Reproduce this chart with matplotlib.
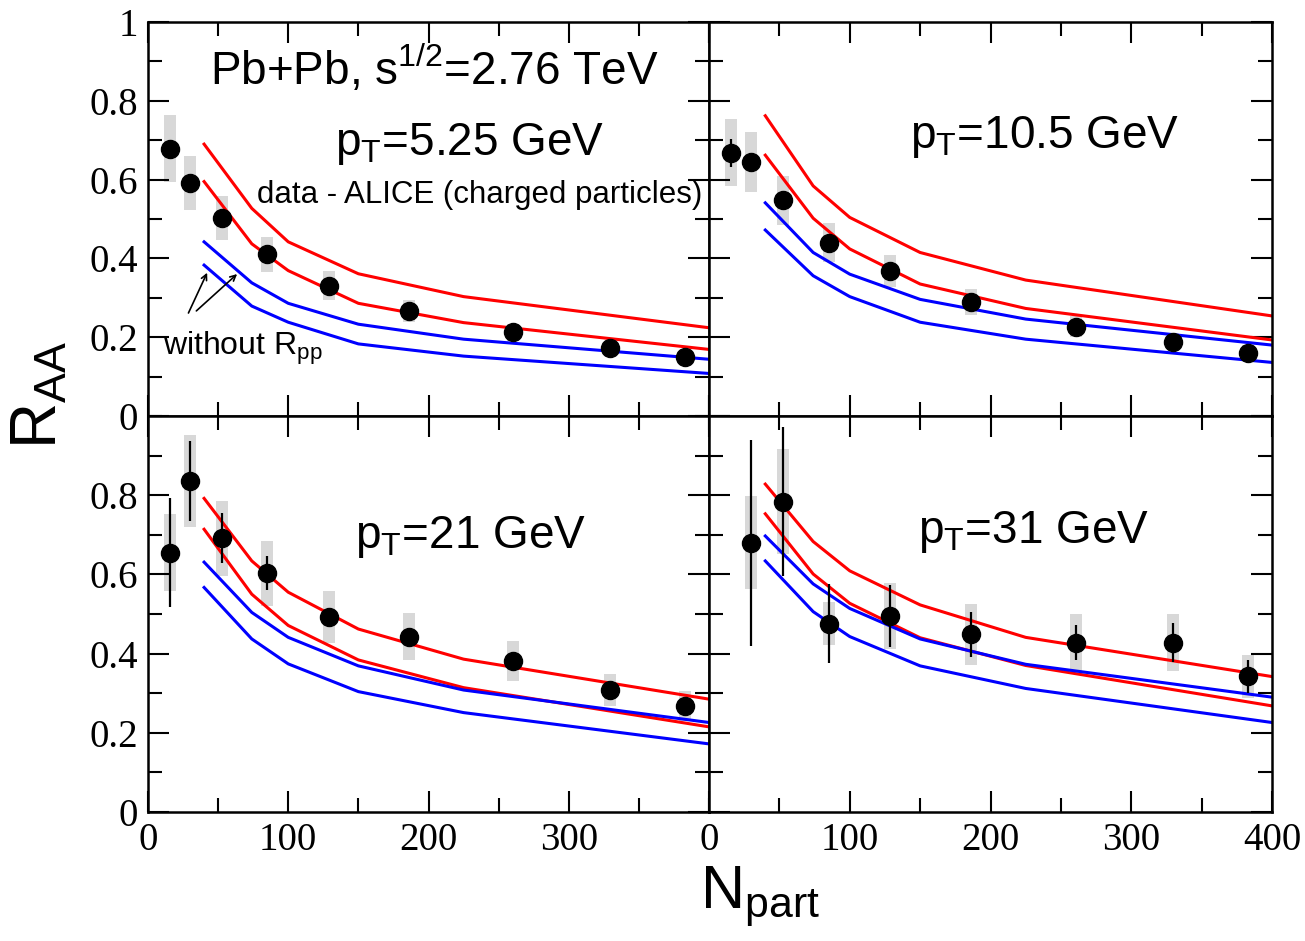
import numpy as np
import matplotlib
matplotlib.use('Agg')
import matplotlib.pyplot as plt
from matplotlib.ticker import MultipleLocator, FixedLocator, FixedFormatter

plt.rcParams['font.family'] = ['Liberation Sans', 'DejaVu Sans']
plt.rcParams['mathtext.fontset'] = 'custom'
plt.rcParams['mathtext.rm'] = 'Liberation Sans'
plt.rcParams['mathtext.it'] = 'Liberation Sans:italic'

# ========== data ==========
npart9 = [15.8, 30.0, 52.8, 85.0, 128.9, 186.4, 260.5, 329.7, 382.7]
npart8 = [30.0, 52.8, 85.0, 128.9, 186.4, 260.5, 329.7, 382.7]
npart_th = [40, 74, 100, 150, 225, 400]

# pT = 5.25 GeV
r1 = [0.678, 0.592, 0.502, 0.410, 0.331, 0.267, 0.212, 0.173, 0.149]
sys1 = [0.085, 0.068, 0.056, 0.045, 0.036, 0.028, 0.022, 0.018, 0.015]
stat1 = [0.01, 0.008, 0.006, 0.005, 0.004, 0.004, 0.003, 0.003, 0.003]
red_up1 = [0.690, 0.527, 0.442, 0.361, 0.303, 0.224]
red_lo1 = [0.595, 0.437, 0.369, 0.286, 0.237, 0.169]
blue_up1 = [0.442, 0.338, 0.286, 0.233, 0.195, 0.144]
blue_lo1 = [0.383, 0.279, 0.238, 0.183, 0.152, 0.108]

# pT = 10.5 GeV
r2 = [0.668, 0.644, 0.548, 0.440, 0.368, 0.290, 0.227, 0.189, 0.161]
sys2 = [0.085, 0.076, 0.062, 0.050, 0.040, 0.033, 0.026, 0.021, 0.018]
stat2 = [0.035, 0.02, 0.012, 0.008, 0.006, 0.005, 0.004, 0.004, 0.004]
red_up2 = [0.762, 0.584, 0.504, 0.415, 0.345, 0.254]
red_lo2 = [0.662, 0.502, 0.424, 0.335, 0.273, 0.193]
blue_up2 = [0.541, 0.415, 0.360, 0.296, 0.246, 0.180]
blue_lo2 = [0.472, 0.356, 0.303, 0.238, 0.195, 0.136]

# pT = 21 GeV
r3 = [0.655, 0.836, 0.691, 0.603, 0.492, 0.443, 0.381, 0.308, 0.268]
sys3 = [0.097, 0.117, 0.094, 0.082, 0.066, 0.059, 0.051, 0.041, 0.038]
stat3 = [0.138, 0.101, 0.063, 0.043, 0.023, 0.015, 0.012, 0.01, 0.01]
red_up3 = [0.792, 0.634, 0.555, 0.462, 0.386, 0.285]
red_lo3 = [0.714, 0.550, 0.471, 0.384, 0.314, 0.215]
blue_up3 = [0.631, 0.504, 0.441, 0.369, 0.308, 0.226]
blue_lo3 = [0.567, 0.437, 0.374, 0.304, 0.251, 0.172]

# pT = 31 GeV
r4 = [0.680, 0.784, 0.476, 0.495, 0.449, 0.428, 0.428, 0.343]
sys4 = [0.117, 0.133, 0.054, 0.083, 0.077, 0.073, 0.073, 0.054]
stat4 = [0.26, 0.187, 0.10, 0.079, 0.057, 0.044, 0.05, 0.042]
red_up4 = [0.828, 0.683, 0.609, 0.523, 0.441, 0.342]
red_lo4 = [0.753, 0.601, 0.527, 0.440, 0.370, 0.268]
blue_up4 = [0.697, 0.576, 0.514, 0.437, 0.373, 0.290]
blue_lo4 = [0.634, 0.506, 0.443, 0.369, 0.312, 0.226]

panels = [
    (npart9, r1, sys1, stat1, red_up1, red_lo1, blue_up1, blue_lo1),
    (npart9, r2, sys2, stat2, red_up2, red_lo2, blue_up2, blue_lo2),
    (npart9, r3, sys3, stat3, red_up3, red_lo3, blue_up3, blue_lo3),
    (npart8, r4, sys4, stat4, red_up4, red_lo4, blue_up4, blue_lo4),
]
pt_labels = [r'p$_\mathrm{T}$=5.25 GeV', r'p$_\mathrm{T}$=10.5 GeV',
             r'p$_\mathrm{T}$=21 GeV', r'p$_\mathrm{T}$=31 GeV']

# ========== layout ==========
W, H = 1305, 941
fig = plt.figure(figsize=(W / 100, H / 100), dpi=100)
x0, x1, xm = 148 / W, 1272 / W, 709 / W
y_top, y_mid, y_bot = 1 - 22 / H, 1 - 416 / H, 1 - 812 / H
boxes = [
    (x0, y_mid, xm - x0, y_top - y_mid),
    (xm, y_mid, x1 - xm, y_top - y_mid),
    (x0, y_bot, xm - x0, y_mid - y_bot),
    (xm, y_bot, x1 - xm, y_mid - y_bot),
]

TICK_FONT = 'Liberation Serif'
TICK_FS = 28

axes = []
for k, (box, pdata) in enumerate(zip(boxes, panels)):
    ax = fig.add_axes(box)
    axes.append(ax)
    npart, r, sy, st, ru, rl, bu, bl = pdata
    r = np.array(r); sy = np.array(sy)
    ax.bar(npart, 2 * sy, bottom=r - sy, width=8.5, color='#d8d8d8', zorder=1)
    ax.errorbar(npart, r, yerr=st, fmt='none', ecolor='black', elinewidth=1.6, zorder=3)
    ax.plot(npart_th, ru, color='#ff0000', lw=2.2, zorder=2)
    ax.plot(npart_th, rl, color='#ff0000', lw=2.2, zorder=2)
    ax.plot(npart_th, bu, color='#0000ff', lw=2.2, zorder=2)
    ax.plot(npart_th, bl, color='#0000ff', lw=2.2, zorder=2)
    ax.plot(npart, r, 'o', color='black', ms=13, zorder=4)

    ax.set_xlim(0, 400)
    ax.set_ylim(0, 1)
    ax.xaxis.set_major_locator(MultipleLocator(100))
    ax.xaxis.set_minor_locator(MultipleLocator(50))
    ax.yaxis.set_major_locator(MultipleLocator(0.2))
    ax.yaxis.set_minor_locator(MultipleLocator(0.1))
    ax.tick_params(which='both', direction='in', top=True, right=True,
                   width=1.5, labelsize=TICK_FS, pad=7)
    ax.tick_params(which='major', length=15)
    ax.tick_params(which='minor', length=10)
    for sp in ax.spines.values():
        sp.set_linewidth(1.8)

    # tick labels
    if k % 2 == 0:
        yt = [0, 0.2, 0.4, 0.6, 0.8, 1.0] if k == 0 else [0, 0.2, 0.4, 0.6, 0.8]
        yl = ['0', '0.2', '0.4', '0.6', '0.8', '1'][:len(yt)]
        ax.yaxis.set_major_locator(FixedLocator(yt))
        ax.yaxis.set_major_formatter(FixedFormatter(yl))
    else:
        ax.set_yticklabels([])
    if k >= 2:
        xt = [0, 100, 200, 300] if k == 2 else [0, 100, 200, 300, 400]
        ax.xaxis.set_major_locator(FixedLocator(xt))
        ax.xaxis.set_major_formatter(FixedFormatter([str(v) for v in xt]))
    else:
        ax.set_xticklabels([])
    for lab in ax.get_xticklabels() + ax.get_yticklabels():
        lab.set_fontfamily(TICK_FONT)
        lab.set_fontsize(TICK_FS)

ax1, ax2, ax3, ax4 = axes

# ========== text ==========
ax1.text(44, 0.840, r'Pb+Pb, s$^{1/2}$=2.76 TeV', fontsize=33)
ax1.text(133, 0.662, pt_labels[0], fontsize=33)
ax1.text(78, 0.541, 'data - ALICE (charged particles)', fontsize=22.5)
ax1.text(10.5, 0.155, r'without R$_\mathrm{pp}$', fontsize=23)
ax1.annotate('', xy=(43, 0.37), xytext=(28, 0.255),
             arrowprops=dict(arrowstyle='->', color='black', lw=1.2))
ax1.annotate('', xy=(65, 0.365), xytext=(33, 0.262),
             arrowprops=dict(arrowstyle='->', color='black', lw=1.2))
ax2.text(143, 0.680, pt_labels[1], fontsize=33)
ax3.text(147.5, 0.667, pt_labels[2], fontsize=33)
ax4.text(148.5, 0.679, pt_labels[3], fontsize=33)

fig.text(40 / W, 1 - 395 / H, r'R$_\mathrm{AA}$', fontsize=46,
         rotation=90, ha='center', va='center')
fig.text(760 / W, 1 - 897 / H, r'N$_\mathrm{part}$', fontsize=44,
         ha='center', va='center')

fig.savefig('out.png', dpi=100)
